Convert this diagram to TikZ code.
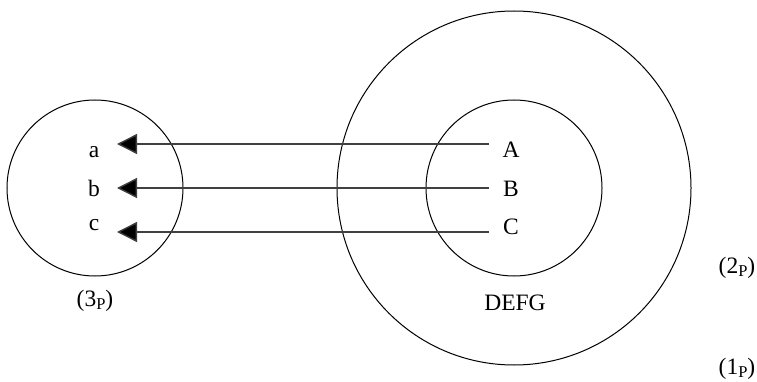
\documentclass[tikz,border=0pt]{standalone}
\usepackage{fontspec}
\setmainfont{Liberation Serif}
\usetikzlibrary{arrows.meta}
\newcommand{\subP}{\raisebox{-0.3ex}{\fontsize{16.5}{16.5}\selectfont P}}
\tikzset{
  ring/.style={draw=black, line width=1pt},
  lbl/.style={font=\fontsize{23.5}{27}\selectfont, inner sep=0pt},
  arr/.style={draw=black!75, line width=1.4pt, -{Triangle[length=20pt,width=20pt,fill=black]}},
}
\begin{document}
\begin{tikzpicture}[x=1pt,y=-1pt]
\useasboundingbox (0,0) rectangle (757,382);
\fill[white] (0,0) rectangle (757,382);
% circles
\draw[ring] (95,188) circle (88);
\draw[ring] (514,188) circle (177);
\draw[ring] (514,188) circle (88);
% labels
\node[lbl] (a) at (94,152) {a};
\node[lbl] (b) at (94,188) {b};
\node[lbl] (c) at (94,225) {c};
\node[lbl] (A) at (511,150) {A};
\node[lbl] (B) at (511,189) {B};
\node[lbl] (C) at (511,227) {C};
\node[lbl] (defg) at (515,303) {DEFG};
\node[lbl] (p3) at (95,301) {(3\subP)};
\node[lbl] (p2) at (737,268) {(2\subP)};
\node[lbl] (p1) at (737,369) {(1\subP)};
% arrow ends
\coordinate (sA) at (489,144);
\coordinate (sB) at (489,188);
\coordinate (sC) at (489,232);
\coordinate (tA) at (117,144);
\coordinate (tB) at (117,188);
\coordinate (tC) at (117,232);
\draw[arr] (sA) -- (tA);
\draw[arr] (sB) -- (tB);
\draw[arr] (sC) -- (tC);
\end{tikzpicture}
\end{document}
